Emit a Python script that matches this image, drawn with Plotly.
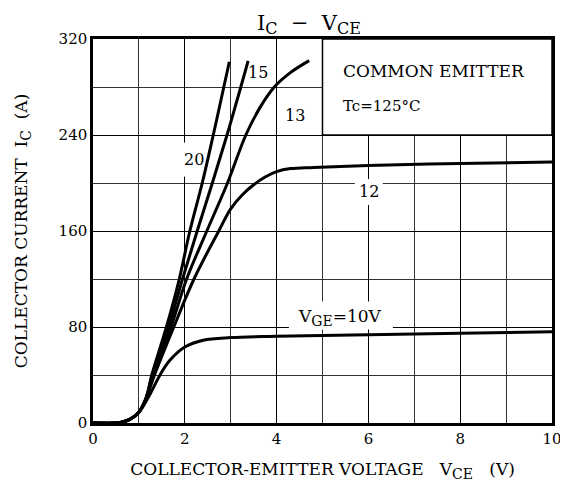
import plotly.graph_objects as go

# ---- data ----
vce_10 = [0, 0.5, 0.6, 0.8, 1.0, 1.2, 1.46, 1.67, 2.0, 2.4, 3.0, 4.0, 6.0, 8.0, 10.0]
ic_10 = [0, 0, 0.5, 3, 9, 21, 40, 52, 63.3, 69, 71.2, 72.3, 73.6, 74.8, 76]

vce_12 = [0, 0.5, 0.6, 0.8, 1.0, 1.15, 1.34, 1.76, 2.2, 2.74, 3.0, 3.25, 3.5, 3.75, 4.0, 4.3, 4.8, 6.0, 8.0, 10.0]
ic_12 = [0, 0, 0.5, 3, 9, 20, 40, 80, 120, 160, 178.5, 190, 198.5, 205, 209.5, 212, 213, 214.5, 216.3, 217.5]

vce_13 = [0, 0.5, 0.6, 0.8, 1.0, 1.15, 1.32, 1.7, 2.04, 2.48, 2.93, 3.33, 3.64, 3.95, 4.3, 4.71]
ic_13 = [0, 0, 0.5, 3, 9, 20, 40, 80, 120, 160, 200, 240, 263, 280, 292, 302]

vce_15 = [0, 0.5, 0.6, 0.8, 1.0, 1.15, 1.3, 1.65, 1.95, 2.27, 2.6, 2.92, 3.22, 3.38]
ic_15 = [0, 0, 0.5, 3, 9, 20, 40, 80, 120, 160, 200, 240, 280, 301.7]

vce_20 = [0, 0.5, 0.6, 0.8, 1.0, 1.15, 1.28, 1.6, 1.88, 2.11, 2.38, 2.62, 2.85, 2.97]
ic_20 = [0, 0, 0.5, 3, 9, 20, 40, 80, 120, 160, 200, 240, 280, 301]

series = [("10", vce_10, ic_10), ("12", vce_12, ic_12), ("13", vce_13, ic_13),
          ("15", vce_15, ic_15), ("20", vce_20, ic_20)]

x_ticks = [0, 2, 4, 6, 8, 10]
y_ticks = [0, 80, 160, 240, 320]

FONT = "DejaVu Serif"


def sub(t, px):
    return '<sub><span style="font-size:%dpx">%s</span></sub>' % (px, t)


fig = go.Figure()
for name, xs, ys in series:
    fig.add_trace(go.Scatter(x=xs, y=ys, mode="lines", name=name,
                             line=dict(color="black", width=3, shape="spline", smoothing=1.0),
                             showlegend=False, hoverinfo="skip"))

# white panel hiding the grid in the top right
fig.add_shape(type="rect", xref="x", yref="y", x0=5, x1=10, y0=240, y1=320,
              fillcolor="white", line=dict(color="black", width=1.5), layer="between")


# white patches behind curve labels (above grid, below curves)
def patch(x, y, hw, hh):
    fig.add_shape(type="rect", xref="x", yref="y",
                  xsizemode="pixel", ysizemode="pixel", xanchor=x, yanchor=y,
                  x0=-hw, x1=hw, y0=-hh, y1=hh,
                  fillcolor="white", line=dict(width=0), layer="between")


patch(2.2, 219.5, 12, 17)
patch(6.01, 192.5, 14, 13)
patch(5.40, 89.5, 52, 14)

ann = []


def lab(text, x, y, size=16, xanchor="center"):
    ann.append(dict(text=text, x=x, y=y, xref="x", yref="y", showarrow=False,
                    xanchor=xanchor, font=dict(family=FONT, size=size, color="black")))


lab("COMMON EMITTER", 5.4, 293.5, size=17, xanchor="left")
lab("Tc=125°C", 5.4, 264, size=15, xanchor="left")
lab("20", 2.2, 219.5)
lab("15", 3.6, 292)
lab("13", 4.41, 256)
lab("12", 6.01, 193)
lab("V" + sub("GE", 14) + "=10V", 5.38, 88, size=17)

# title (top of figure)
ann.append(dict(text="I" + sub("C", 16) + "  −  V" + sub("CE", 16), xref="x domain", yref="y domain",
                x=(309 - 93) / 459, y=1 + 30 / 384, xanchor="center", yanchor="top",
                showarrow=False, font=dict(family=FONT, size=21, color="black")))

# the page body has an 8px default margin, so the figure is a bit smaller
fig.update_layout(
    width=560, height=482,
    margin=dict(l=85, r=16, t=31, b=67, autoexpand=False),
    paper_bgcolor="white", plot_bgcolor="white",
    font=dict(family=FONT, size=15, color="black"),
    annotations=ann,
)
fig.update_xaxes(range=[0, 10], tickvals=x_ticks, ticktext=[str(v) for v in x_ticks],
                 automargin=False,
                 showgrid=True, gridcolor="black", gridwidth=1.3,
                 minor=dict(dtick=1, showgrid=True, gridcolor="#333", gridwidth=0.8),
                 showline=True, linecolor="black", linewidth=2.5, mirror=True,
                 ticks="", zeroline=False,
                 title=dict(text="COLLECTOR-EMITTER VOLTAGE   V" + sub("CE", 14) + "   (V)",
                            font=dict(family=FONT, size=17), standoff=17),
                 tickfont=dict(family=FONT, size=15))
fig.update_yaxes(range=[0, 320], tickvals=y_ticks, ticktext=[str(v) for v in y_ticks],
                 automargin=False,
                 showgrid=True, gridcolor="black", gridwidth=1.3,
                 minor=dict(dtick=40, showgrid=True, gridcolor="#333", gridwidth=0.8),
                 showline=True, linecolor="black", linewidth=2.5, mirror=True,
                 ticks="", zeroline=False,
                 title=dict(text="COLLECTOR CURRENT  I" + sub("C", 14) + "  (A)",
                            font=dict(family=FONT, size=17), standoff=27),
                 tickfont=dict(family=FONT, size=15))

fig.write_html("out.html")
